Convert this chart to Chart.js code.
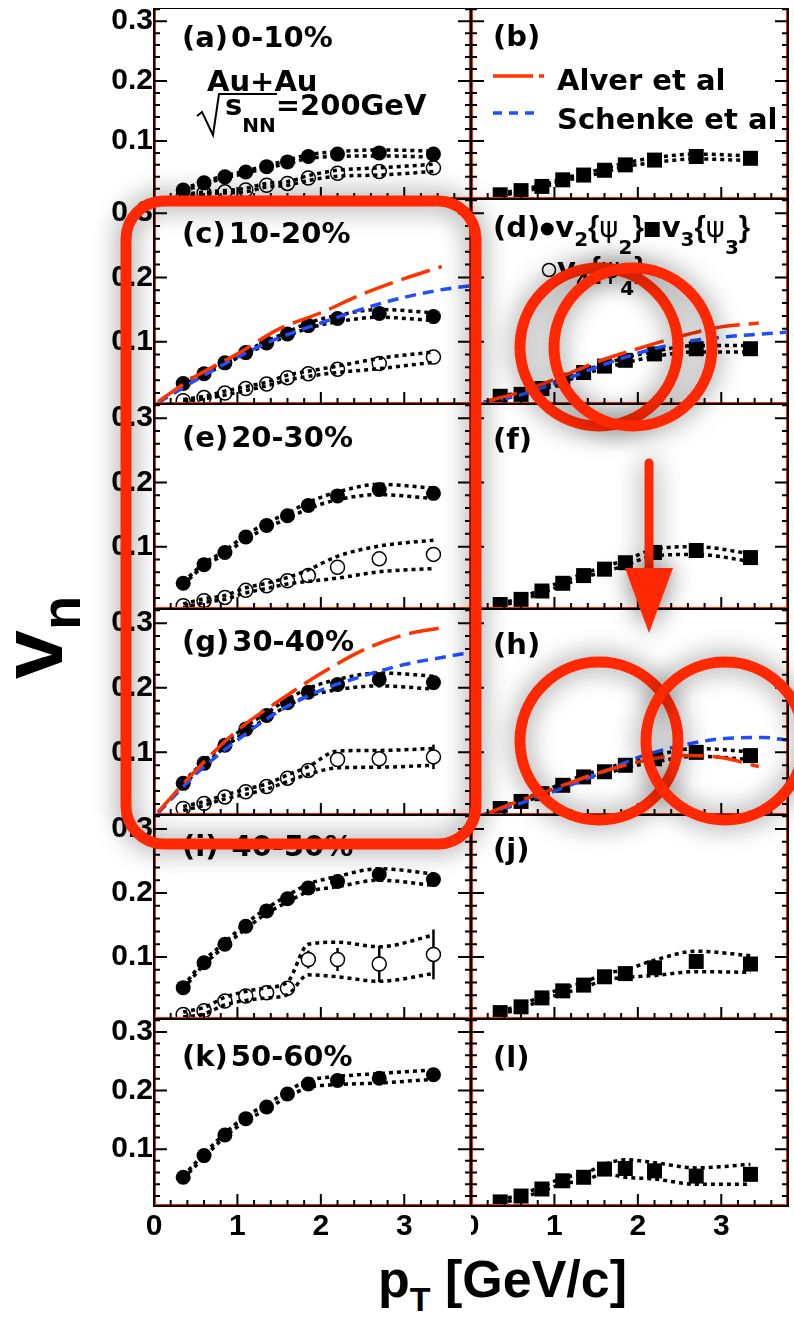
<!DOCTYPE html>
<html>
<head>
<meta charset="utf-8">
<script src="https://cdn.jsdelivr.net/npm/chart.js@4.4.1/dist/chart.umd.min.js"></script>
<style>
  body { margin: 0; width: 794px; height: 1318px; background: #fff; position: relative; overflow: hidden; }
  canvas.panel { position: absolute; }
  #marks { position: absolute; left: 0; top: 0; pointer-events: none; z-index: 5; }
  .title { position: absolute; left: 0; top: 0; font-family: 'Liberation Sans', Arial, sans-serif; font-weight: bold; line-height: 1; white-space: nowrap; color: #000; }
</style>
</head>
<body>
<div class="title" style="font-size:88px; transform-origin:0 0; transform:translate(-12px,679px) rotate(-90deg);">v<span style="font-size:56px; position:relative; top:18px;">n</span></div>
<div class="title" style="font-size:52px; left:378px; top:1253px;">p<span style="font-size:34px; position:relative; top:14px;">T</span> [GeV/c]</div>
<canvas id="marks" width="794" height="1318"></canvas>
<script>
// pT bin centres (GeV/c), shared by all data points
const ptBins = [0.35, 0.6, 0.85, 1.1, 1.35, 1.6, 1.85, 2.2, 2.7, 3.35];
const centralities = ['0-10%', '10-20%', '20-30%', '30-40%', '40-50%', '50-60%'];
const yTicks = [0.1, 0.2, 0.3];
const xTicks = [0, 1, 2, 3];

// v2{psi2} (filled circles) and systematic half-widths
const v2_0_10  = [0.018, 0.030, 0.040, 0.048, 0.057, 0.065, 0.074, 0.078, 0.080, 0.078];
const v2_10_20 = [0.035, 0.050, 0.067, 0.083, 0.098, 0.112, 0.125, 0.136, 0.144, 0.139];
const v2_20_30 = [0.043, 0.072, 0.091, 0.115, 0.133, 0.148, 0.164, 0.179, 0.189, 0.183];
const v2_30_40 = [0.052, 0.083, 0.111, 0.136, 0.157, 0.177, 0.193, 0.205, 0.213, 0.208];
const v2_40_50 = [0.052, 0.091, 0.120, 0.148, 0.172, 0.191, 0.208, 0.218, 0.229, 0.221];
const v2_50_60 = [0.052, 0.089, 0.124, 0.152, 0.172, 0.194, 0.211, 0.217, 0.221, 0.227];
const v2Sys_0_10  = [0.002, 0.002, 0.002, 0.002, 0.002, 0.003, 0.003, 0.004, 0.005, 0.005];
const v2Sys_10_20 = [0.002, 0.002, 0.002, 0.002, 0.003, 0.003, 0.004, 0.005, 0.006, 0.006];
const v2Sys_20_30 = [0.002, 0.002, 0.003, 0.003, 0.004, 0.004, 0.005, 0.006, 0.008, 0.008];
const v2Sys_30_40 = [0.002, 0.003, 0.003, 0.004, 0.004, 0.005, 0.006, 0.008, 0.010, 0.010];
const v2Sys_40_50 = [0.002, 0.003, 0.003, 0.004, 0.004, 0.005, 0.006, 0.008, 0.009, 0.009];
const v2Sys_50_60 = [0.002, 0.003, 0.003, 0.004, 0.004, 0.005, 0.006, 0.007, 0.008, 0.008];

// v4{psi4} (open circles), systematic and statistical errors
const v4_0_10  = [0.008, 0.013, 0.015, 0.018, 0.026, 0.029, 0.038, 0.046, 0.049, 0.055];
const v4_10_20 = [0.008, 0.013, 0.020, 0.027, 0.034, 0.044, 0.050, 0.057, 0.066, 0.076];
const v4_20_30 = [0.008, 0.016, 0.021, 0.032, 0.039, 0.047, 0.055, 0.068, 0.081, 0.088];
const v4_30_40 = [0.013, 0.021, 0.031, 0.039, 0.047, 0.060, 0.072, 0.089, 0.090, 0.093];
const v4_40_50 = [0.010, 0.016, 0.031, 0.039, 0.044, 0.051, 0.096, 0.096, 0.089, 0.104];
const v4Sys_0_10  = [0.002, 0.002, 0.002, 0.003, 0.003, 0.003, 0.004, 0.005, 0.006, 0.006];
const v4Sys_10_20 = [0.002, 0.002, 0.003, 0.003, 0.003, 0.004, 0.004, 0.005, 0.008, 0.008];
const v4Sys_20_30 = [0.003, 0.003, 0.003, 0.004, 0.004, 0.005, 0.009, 0.017, 0.020, 0.022];
const v4Sys_30_40 = [0.003, 0.003, 0.003, 0.004, 0.004, 0.005, 0.006, 0.013, 0.013, 0.013];
const v4Sys_40_50 = [0.004, 0.005, 0.006, 0.007, 0.008, 0.010, 0.024, 0.027, 0.027, 0.030];
const v4Stat_0_10  = [0.001, 0.001, 0.001, 0.001, 0.002, 0.002, 0.002, 0.003, 0.004, 0.005];
const v4Stat_10_20 = [0.001, 0.001, 0.001, 0.002, 0.002, 0.002, 0.003, 0.004, 0.005, 0.006];
const v4Stat_20_30 = [0.001, 0.001, 0.002, 0.002, 0.002, 0.003, 0.004, 0.006, 0.008, 0.010];
const v4Stat_30_40 = [0.001, 0.001, 0.002, 0.002, 0.002, 0.003, 0.004, 0.006, 0.010, 0.019];
const v4Stat_40_50 = [0.002, 0.003, 0.004, 0.005, 0.006, 0.007, 0.014, 0.018, 0.028, 0.039];

// v3{psi3} (filled squares)
const v3_0_10  = [0.010, 0.017, 0.024, 0.035, 0.043, 0.051, 0.060, 0.068, 0.074, 0.071];
const v3_10_20 = [0.015, 0.018, 0.027, 0.040, 0.052, 0.062, 0.071, 0.081, 0.089, 0.089];
const v3_20_30 = [0.010, 0.018, 0.031, 0.043, 0.055, 0.065, 0.075, 0.091, 0.094, 0.083];
const v3_30_40 = [0.013, 0.024, 0.036, 0.049, 0.062, 0.070, 0.080, 0.090, 0.100, 0.095];
const v3_40_50 = [0.013, 0.022, 0.036, 0.047, 0.056, 0.069, 0.074, 0.083, 0.093, 0.089];
const v3_50_60 = [0.010, 0.020, 0.032, 0.046, 0.052, 0.066, 0.067, 0.063, 0.054, 0.057];
const v3Sys_0_10  = [0.002, 0.002, 0.002, 0.002, 0.003, 0.003, 0.003, 0.004, 0.004, 0.004];
const v3Sys_10_20 = [0.002, 0.002, 0.002, 0.003, 0.003, 0.003, 0.004, 0.004, 0.005, 0.005];
const v3Sys_20_30 = [0.002, 0.002, 0.003, 0.003, 0.003, 0.004, 0.004, 0.005, 0.006, 0.006];
const v3Sys_30_40 = [0.002, 0.002, 0.003, 0.003, 0.003, 0.004, 0.004, 0.005, 0.006, 0.006];
const v3Sys_40_50 = [0.002, 0.003, 0.003, 0.004, 0.004, 0.005, 0.006, 0.012, 0.016, 0.013];
const v3Sys_50_60 = [0.003, 0.003, 0.004, 0.005, 0.006, 0.008, 0.015, 0.014, 0.014, 0.017];

// hydro model curves
const alverPtV2 = [0.05, 0.5, 1.0, 1.5, 2.0, 2.5, 3.0, 3.45];
const alverV2_10_20 = [0.007, 0.046, 0.081, 0.120, 0.145, 0.174, 0.198, 0.217];
const alverV2_30_40 = [0.008, 0.072, 0.134, 0.180, 0.222, 0.258, 0.282, 0.293];
const alverPtV3 = [0.2, 0.5, 1.0, 1.5, 2.0, 2.5, 3.0, 3.45];
const alverV3_10_20 = [0.008, 0.018, 0.041, 0.068, 0.089, 0.108, 0.123, 0.129];
const alverV3_30_40 = [0.006, 0.021, 0.044, 0.067, 0.085, 0.095, 0.092, 0.078];
const schenkePtV2 = [0.05, 0.5, 1.0, 1.5, 2.0, 2.5, 3.0, 3.5, 3.8];
const schenkeV2_10_20 = [0.005, 0.040, 0.076, 0.106, 0.129, 0.151, 0.169, 0.182, 0.187];
const schenkeV2_30_40 = [0.006, 0.066, 0.119, 0.164, 0.196, 0.218, 0.236, 0.248, 0.255];
const schenkePtV3 = [0.15, 0.5, 1.0, 1.5, 2.0, 2.5, 3.0, 3.5, 3.8];
const schenkeV3_10_20 = [0.006, 0.014, 0.035, 0.060, 0.082, 0.098, 0.107, 0.112, 0.115];
const schenkeV3_30_40 = [0.004, 0.017, 0.040, 0.065, 0.092, 0.110, 0.121, 0.123, 0.119];

// page layout (pixels)
const rowTops = [8, 199, 404, 609, 815, 1019];
const rowBottoms = [199, 404, 609, 815, 1019, 1206];
const leftLabelBase = [47, 243, 447, 651, 856, 1066];
const rightLabelBase = [46, 237, 449, 654, 859, 1067];
const RED = '#ff3300', BLUE = '#1f4fff';
const TXT = 'bold 29px "DejaVu Sans"';

const leftPanels = [
  { tag: '(a)', cent: centralities[0], v2: v2_0_10, v2Sys: v2Sys_0_10, v4: v4_0_10, v4Sys: v4Sys_0_10, v4Stat: v4Stat_0_10 },
  { tag: '(c)', cent: centralities[1], v2: v2_10_20, v2Sys: v2Sys_10_20, v4: v4_10_20, v4Sys: v4Sys_10_20, v4Stat: v4Stat_10_20,
    alver: [alverPtV2, alverV2_10_20], schenke: [schenkePtV2, schenkeV2_10_20] },
  { tag: '(e)', cent: centralities[2], v2: v2_20_30, v2Sys: v2Sys_20_30, v4: v4_20_30, v4Sys: v4Sys_20_30, v4Stat: v4Stat_20_30 },
  { tag: '(g)', cent: centralities[3], v2: v2_30_40, v2Sys: v2Sys_30_40, v4: v4_30_40, v4Sys: v4Sys_30_40, v4Stat: v4Stat_30_40,
    alver: [alverPtV2, alverV2_30_40], schenke: [schenkePtV2, schenkeV2_30_40] },
  { tag: '(i)', cent: ' ' + centralities[4], v2: v2_40_50, v2Sys: v2Sys_40_50, v4: v4_40_50, v4Sys: v4Sys_40_50, v4Stat: v4Stat_40_50 },
  { tag: '(k)', cent: centralities[5], v2: v2_50_60, v2Sys: v2Sys_50_60 }
];
const rightPanels = [
  { tag: '(b)', v3: v3_0_10, v3Sys: v3Sys_0_10 },
  { tag: '(d)', v3: v3_10_20, v3Sys: v3Sys_10_20, alver: [alverPtV3, alverV3_10_20], schenke: [schenkePtV3, schenkeV3_10_20] },
  { tag: '(f)', v3: v3_20_30, v3Sys: v3Sys_20_30 },
  { tag: '(h)', v3: v3_30_40, v3Sys: v3Sys_30_40, alver: [alverPtV3, alverV3_30_40], schenke: [schenkePtV3, schenkeV3_30_40] },
  { tag: '(j)', v3: v3_40_50, v3Sys: v3Sys_40_50 },
  { tag: '(l)', v3: v3_50_60, v3Sys: v3Sys_50_60 }
];

function pts(xs, ys) { return xs.map((x, i) => ({ x: x, y: ys[i] })); }

function bandLines(ys, sys) {
  return [1, -1].map(s => ({
    data: pts(ptBins, ys.map((v, i) => v + s * sys[i])),
    borderColor: '#000', borderWidth: 3.5, borderDash: [4, 4],
    pointRadius: 0, cubicInterpolationMode: 'monotone', order: 2, clip: 0
  }));
}

function markers(ys, style, stat) {
  const d = { data: pts(ptBins, ys), showLine: false, order: 3, clip: 0, pointBorderColor: '#000', statErr: stat };
  if (style === 'filled') Object.assign(d, { pointStyle: 'circle', pointRadius: 7.5, pointBackgroundColor: '#000', pointBorderWidth: 0 });
  if (style === 'open') Object.assign(d, { pointStyle: 'circle', pointRadius: 7, pointBackgroundColor: '#fff', pointBorderWidth: 1.5 });
  if (style === 'square') Object.assign(d, { pointStyle: 'rect', pointRadius: 10.6, pointBackgroundColor: '#000', pointBorderWidth: 0 });
  return d;
}

function model(m, color, dash) {
  return { data: pts(m[0], m[1]), borderColor: color, borderWidth: 3.5, borderDash: dash,
    pointRadius: 0, cubicInterpolationMode: 'monotone', order: 1, clip: 0 };
}

// draws text runs; items are [text, font, dy] or shapes
function richText(ctx, x, base, items) {
  items.forEach(it => {
    if (it[0] === 'dot' || it[0] === 'ring' || it[0] === 'square') {
      ctx.beginPath();
      if (it[0] === 'square') { ctx.fillRect(x + 1, base - 15, 15, 15); x += 18; return; }
      ctx.arc(x + 7, base - 8, 6.5, 0, Math.PI * 2);
      if (it[0] === 'dot') ctx.fill(); else { ctx.lineWidth = 1.5; ctx.stroke(); }
      x += 15;
      return;
    }
    ctx.font = it[1];
    ctx.fillText(it[0], x, base + (it[2] || 0));
    x += ctx.measureText(it[0]).width;
  });
}

const SUB = 'bold 20px "DejaVu Sans"';
const BR = 'bold 29px "Liberation Sans"';
const PSI = '29px "DejaVu Sans"';

const errorBars = {
  id: 'errorBars',
  beforeDatasetsDraw(chart) {
    const { ctx, chartArea: a, scales: { x, y } } = chart;
    ctx.save();
    ctx.beginPath(); ctx.rect(a.left, a.top, a.right - a.left, a.bottom - a.top); ctx.clip();
    ctx.strokeStyle = '#000'; ctx.lineWidth = 2.5;
    chart.data.datasets.forEach(ds => {
      if (!ds.statErr) return;
      ds.data.forEach((p, i) => {
        const px = x.getPixelForValue(p.x);
        ctx.beginPath();
        ctx.moveTo(px, y.getPixelForValue(p.y - ds.statErr[i]));
        ctx.lineTo(px, y.getPixelForValue(p.y + ds.statErr[i]));
        ctx.stroke();
      });
    });
    ctx.restore();
  }
};

// frame plus inward ticks like the ROOT original
const frame = {
  id: 'frame',
  afterDatasetsDraw(chart) {
    const { ctx, chartArea: a, scales: { x, y } } = chart;
    ctx.save();
    ctx.strokeStyle = '#ff2a00'; ctx.lineWidth = 1;
    ctx.beginPath();
    ctx.moveTo(a.left + 1.5, a.top); ctx.lineTo(a.left + 1.5, a.bottom);
    ctx.moveTo(a.right - 1.5, a.top); ctx.lineTo(a.right - 1.5, a.bottom);
    ctx.moveTo(a.left, a.bottom - 1.5); ctx.lineTo(a.right, a.bottom - 1.5);
    ctx.stroke();
    ctx.strokeStyle = '#000'; ctx.lineWidth = 2;
    ctx.strokeRect(a.left, a.top, a.right - a.left, a.bottom - a.top);
    ctx.beginPath();
    for (let k = 1; k <= 16; k++) {
      const py = y.getPixelForValue(k * 0.02);
      if (py < a.top) continue;
      const len = k % 5 === 0 ? 13 : 6;
      ctx.moveTo(a.left, py); ctx.lineTo(a.left + len, py);
      ctx.moveTo(a.right, py); ctx.lineTo(a.right - len, py);
    }
    for (let k = 1; k <= 19; k++) {
      const px = x.getPixelForValue(k * 0.2);
      if (px > a.right - 1) continue;
      const len = k % 5 === 0 ? 12 : 6;
      ctx.moveTo(px, a.bottom); ctx.lineTo(px, a.bottom - len);
    }
    ctx.stroke();
    ctx.restore();
  }
};

function makePanel(col, row, p) {
  const isLeft = col === 0, isBottom = row === 5;
  const top = rowTops[row], h = rowBottoms[row] - top;
  const canvasLeft = isLeft ? 0 : 471;
  const cv = document.createElement('canvas');
  cv.className = 'panel';
  cv.width = isLeft ? 472 : 323;
  cv.height = h + (isBottom ? 60 : 0);
  cv.style.left = canvasLeft + 'px';
  cv.style.top = top + 'px';
  document.body.insertBefore(cv, document.getElementById('marks'));

  const datasets = [];
  if (p.alver) datasets.push(model(p.alver, RED, [30, 9]));
  if (p.schenke) datasets.push(model(p.schenke, BLUE, [11, 7]));
  if (p.v2) {
    datasets.push(...bandLines(p.v2, p.v2Sys));
    datasets.push(markers(p.v2, 'filled'));
  }
  if (p.v4) {
    datasets.push(...bandLines(p.v4, p.v4Sys));
    datasets.push(markers(p.v4, 'open', p.v4Stat));
  }
  if (p.v3) {
    datasets.push(...bandLines(p.v3, p.v3Sys));
    datasets.push(markers(p.v3, 'square'));
  }

  const labels = {
    id: 'labels',
    afterDraw(chart) {
      const ctx = chart.ctx;
      ctx.save();
      ctx.fillStyle = '#000'; ctx.strokeStyle = '#000';
      ctx.textBaseline = 'alphabetic';
      ctx.font = TXT;
      if (isLeft) {
        const base = leftLabelBase[row] - top;
        const x0 = 182 - canvasLeft;
        ctx.fillText(p.tag, x0, base);
        ctx.fillText(p.cent, x0 + ctx.measureText(p.tag).width + 3, base);
        if (row === 0) {
          ctx.fillText('Au+Au', 207, 91 - top);
          richText(ctx, 225, 115 - top, [['s', TXT], ['NN', SUB, 17], ['=200GeV', TXT]]);
          ctx.lineWidth = 2;
          ctx.beginPath();
          ctx.moveTo(197, 116 - top); ctx.lineTo(202, 112 - top); ctx.lineTo(213, 135 - top);
          ctx.lineTo(219, 94 - top); ctx.lineTo(277, 94 - top);
          ctx.stroke();
        }
      } else {
        const base = rightLabelBase[row] - top;
        const x0 = 493 - canvasLeft;
        if (row === 1) {
          richText(ctx, x0, base, [['(d)', TXT], ['dot'], ['v', TXT], ['2', SUB, 9], ['{', BR], ['\u03C8', PSI], ['2', SUB, 17], ['}', BR],
            ['square'], ['v', TXT], ['3', SUB, 9], ['{', BR], ['\u03C8', PSI], ['3', SUB, 17], ['}', BR]]);
          richText(ctx, 542 - canvasLeft, base + 41, [['ring'], ['v', TXT], ['4', SUB, 9], ['{', BR], ['\u03C8', PSI], ['4', SUB, 17], ['}', BR]]);
        } else {
          ctx.fillText(p.tag, x0, base);
        }
        if (row === 0) {
          ctx.lineWidth = 3.5;
          ctx.strokeStyle = RED;
          ctx.setLineDash([40, 6, 5, 100]);
          ctx.beginPath(); ctx.moveTo(x0, 76 - top); ctx.lineTo(x0 + 53, 76 - top); ctx.stroke();
          ctx.strokeStyle = BLUE;
          ctx.setLineDash([9, 7]);
          ctx.beginPath(); ctx.moveTo(x0, 113 - top); ctx.lineTo(x0 + 48, 113 - top); ctx.stroke();
          ctx.setLineDash([]);
          ctx.font = TXT;
          ctx.fillText('Alver et al', 557 - canvasLeft, 90 - top);
          ctx.fillText('Schenke et al', 557 - canvasLeft, 129 - top);
        }
      }
      ctx.restore();
    }
  };

  return new Chart(cv, {
    type: 'line',
    data: { datasets: datasets },
    options: {
      responsive: false,
      animation: false,
      events: [],
      layout: { autoPadding: false, padding: { left: 0, top: 0, bottom: 0, right: isLeft ? 1 : 6 } },
      plugins: { legend: { display: false }, tooltip: { enabled: false } },
      scales: {
        x: {
          type: 'linear', min: 0, max: 3.8, display: isBottom,
          grid: { display: false, drawTicks: false }, border: { display: false },
          ticks: { color: '#000', padding: 3, maxRotation: 0, autoSkip: false,
            font: { family: "'Liberation Sans', Arial, sans-serif", weight: 'bold', size: 30 } },
          afterBuildTicks: s => { s.ticks = xTicks.map(v => ({ value: v })); },
          afterFit: s => { if (isBottom) s.height = 60; s.paddingLeft = 0; s.paddingRight = 0; }
        },
        y: {
          type: 'linear', min: 0.003, max: 0.322, display: isLeft,
          grid: { display: false, drawTicks: false }, border: { display: false },
          ticks: { color: '#000', padding: 1,
            font: { family: "'Liberation Sans', Arial, sans-serif", weight: 'bold', size: 30 },
            callback: v => v.toFixed(1) },
          afterBuildTicks: s => { s.ticks = yTicks.map(v => ({ value: v })); },
          afterFit: s => { s.width = isLeft ? 154 : 0; s.paddingTop = 0; s.paddingBottom = 0; }
        }
      }
    },
    plugins: [errorBars, frame, labels]
  });
}

leftPanels.forEach((p, r) => makePanel(0, r, p));
rightPanels.forEach((p, r) => makePanel(1, r, p));

// red highlight marks drawn over the figure
const mc = document.getElementById('marks').getContext('2d');
mc.strokeStyle = 'rgb(255,40,0)';
mc.fillStyle = 'rgb(255,40,0)';
mc.lineWidth = 11;
mc.shadowColor = 'rgba(0,0,0,0.55)';
mc.shadowBlur = 26;
mc.beginPath();
mc.roundRect(126, 201, 350, 643, 38);
mc.stroke();
[[599, 347], [633, 347], [599, 741], [725, 741]].forEach(c => {
  mc.beginPath();
  mc.arc(c[0], c[1], 79, 0, Math.PI * 2);
  mc.stroke();
});
mc.lineWidth = 9;
mc.lineCap = 'round';
mc.beginPath(); mc.moveTo(649, 463); mc.lineTo(649, 570); mc.stroke();
mc.beginPath(); mc.moveTo(625, 568); mc.lineTo(673, 568); mc.lineTo(649, 633); mc.closePath(); mc.fill();
</script>
</body>
</html>
